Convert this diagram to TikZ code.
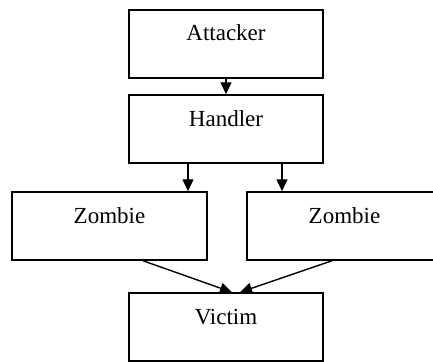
\documentclass[tikz,border=0pt]{standalone}
\usepackage{fontspec}
\setmainfont{Liberation Serif}
\usetikzlibrary{arrows.meta,positioning,calc}
\tikzset{
  % plain boxes, label sitting near the top edge
  hostbox/.style={draw, line width=1.5pt, rectangle, inner sep=0pt,
    minimum width=194pt, text height=31pt, text depth=37pt,
    font=\fontsize{23}{27}\selectfont},
  % the command / flood arrows
  cmdarrow/.style={-{Triangle[length=12pt,width=11pt]}, line width=1.4pt},
}

\begin{document}
\begin{tikzpicture}[x=1pt, y=1pt]
    \useasboundingbox (0,0) rectangle (433,-361);
    % --- chain of control ---
    \node[hostbox] (attacker) at (226,-44) {Attacker};
    \node[hostbox] (handler) at (226,-129) {Handler};
    \node[hostbox, minimum width=195pt] (zombieL) at (109.5,-226) {Zombie};
    \node[hostbox, minimum width=195pt] (zombieR) at (344.5,-226) {Zombie};
    \node[hostbox] (victim) at (226,-327) {Victim};
    % arrows
    \draw[cmdarrow] (attacker) -- (handler);
    \draw[cmdarrow] ([xshift=-38pt]handler.south) -- ([xshift=-38pt]handler.south |- zombieL.north);
    \draw[cmdarrow] ([xshift=56pt]handler.south) -- ([xshift=56pt]handler.south |- zombieR.north);
    \draw[cmdarrow] ([xshift=33.5pt]zombieL.south) -- ([xshift=6pt]victim.north);
    \draw[cmdarrow] ([xshift=-12.5pt]zombieR.south) -- ([xshift=14pt]victim.north);
\end{tikzpicture}
\end{document}
